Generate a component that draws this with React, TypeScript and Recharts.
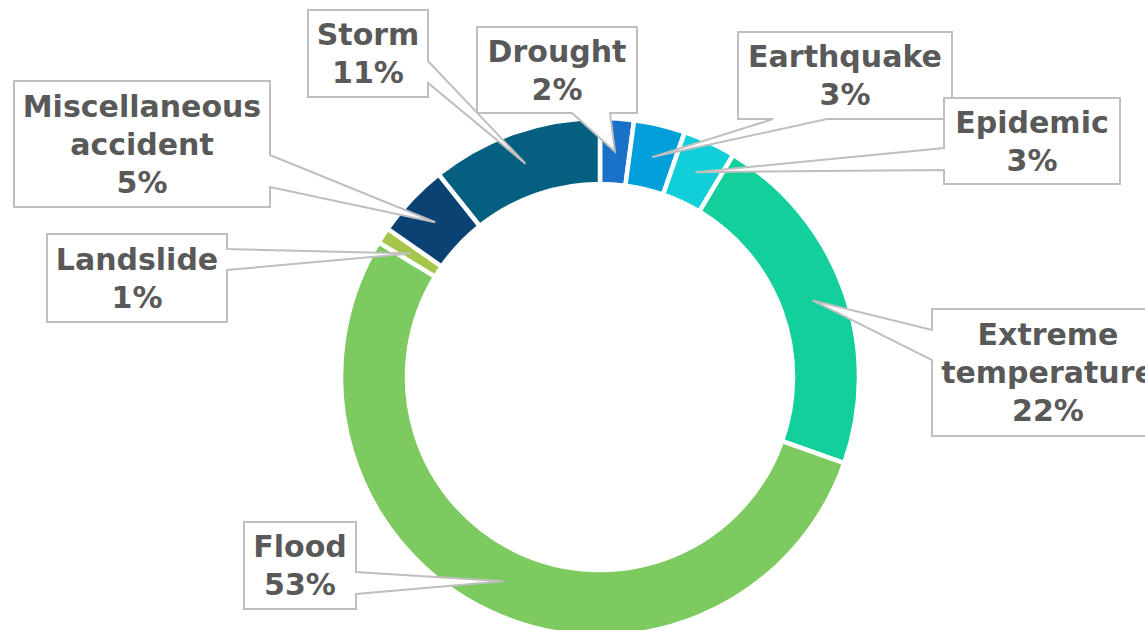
import { PieChart, Pie, Cell } from "recharts";

const categories = [
  "Drought",
  "Earthquake",
  "Epidemic",
  "Extreme temperature",
  "Flood",
  "Landslide",
  "Miscellaneous accident",
  "Storm",
];
const shares = [2.1, 3.2, 3.3, 21.8, 53.3, 1.0, 4.6, 10.7];

const COLORS = ["#1a72c8", "#019fd9", "#10cfd9", "#13cf9b", "#7dca61", "#a5c64b", "#0b4274", "#045f80"];

const data = categories.map((name, i) => ({ name, value: shares[i] }));

// callout boxes: box, which side the pointer leaves from, and where on that side
type Callout = { x: number; y: number; w: number; h: number; side: "left" | "right" | "bottom"; base: [number, number]; lines: string[] };

const CALLOUTS: Callout[] = [
  { x: 477, y: 27, w: 160, h: 86, side: "bottom", base: [572, 610], lines: ["Drought"] },
  { x: 738, y: 32, w: 214, h: 87, side: "bottom", base: [773, 827], lines: ["Earthquake"] },
  { x: 944, y: 98, w: 176, h: 86, side: "left", base: [148, 170], lines: ["Epidemic"] },
  { x: 932, y: 309, w: 232, h: 127, side: "left", base: [330, 360], lines: ["Extreme", "temperature"] },
  { x: 244, y: 522, w: 112, h: 87, side: "right", base: [572, 594], lines: ["Flood"] },
  { x: 47, y: 234, w: 180, h: 88, side: "right", base: [249, 270], lines: ["Landslide"] },
  { x: 14, y: 81, w: 256, h: 126, side: "right", base: [155, 187], lines: ["Miscellaneous", "accident"] },
  { x: 308, y: 10, w: 120, h: 87, side: "right", base: [61, 83], lines: ["Storm"] },
];

const RAD = Math.PI / 180;

const calloutPath = (c: Callout, tx: number, ty: number) => {
  const l = c.x, t = c.y, r = c.x + c.w, b = c.y + c.h;
  const [a1, a2] = c.base;
  const p: string[] = [`M${l},${t}`, `L${r},${t}`];
  if (c.side === "right") p.push(`L${r},${a1}`, `L${tx},${ty}`, `L${r},${a2}`);
  p.push(`L${r},${b}`);
  if (c.side === "bottom") p.push(`L${a2},${b}`, `L${tx},${ty}`, `L${a1},${b}`);
  p.push(`L${l},${b}`);
  if (c.side === "left") p.push(`L${l},${a2}`, `L${tx},${ty}`, `L${l},${a1}`);
  p.push("Z");
  return p.join(" ");
};

const renderLabel = (props: any) => {
  const { cx, cy, midAngle, innerRadius, outerRadius, index, percent } = props;
  const c = CALLOUTS[index];
  const r = (innerRadius + outerRadius) / 2;
  const tx = cx + r * Math.cos(-midAngle * RAD);
  const ty = cy + r * Math.sin(-midAngle * RAD);
  const lines = [...c.lines, `${Math.round(percent * 100)}%`];
  const lh = 38;
  const midX = c.x + c.w / 2;
  const firstY = c.y + c.h / 2 - ((lines.length - 1) * lh) / 2;
  return (
    <g key={`callout-${index}`}>
      <path d={calloutPath(c, tx, ty)} fill="#ffffff" stroke="#bfbfbf" strokeWidth={2} />
      {lines.map((ln, i) => (
        <text
          key={i}
          x={midX}
          y={firstY + i * lh}
          textAnchor="middle"
          dominantBaseline="central"
          fontFamily="DejaVu Sans"
          fontWeight="bold"
          fontSize={30}
          fill="#595959"
        >
          {ln}
        </text>
      ))}
    </g>
  );
};

export default function App() {
  return (
    <div style={{ position: "absolute", left: 0, top: 0, width: 1145, height: 630, background: "#fff", overflow: "hidden" }}>
      <PieChart width={1145} height={630} margin={{ top: 0, right: 0, bottom: 0, left: 0 }}>
        <Pie
          data={data}
          dataKey="value"
          nameKey="name"
          cx={600}
          cy={377}
          innerRadius={193}
          outerRadius={259}
          startAngle={90}
          endAngle={-270}
          stroke="#ffffff"
          strokeWidth={4.5}
          label={renderLabel}
          labelLine={false}
          isAnimationActive={false}
        >
          {data.map((d, i) => (
            <Cell key={d.name} fill={COLORS[i]} />
          ))}
        </Pie>
      </PieChart>
    </div>
  );
}
